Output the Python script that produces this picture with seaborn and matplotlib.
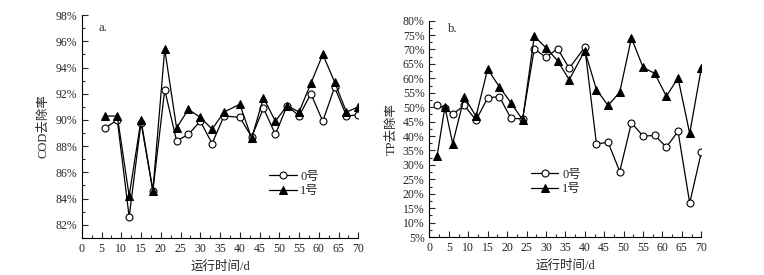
import numpy as np
import pandas as pd
import matplotlib
matplotlib.use('Agg')
import matplotlib.pyplot as plt
import seaborn as sns
from matplotlib.ticker import PercentFormatter, MultipleLocator

# a. COD 去除率
cod_day = [6, 9, 12, 15, 18, 21, 24, 27, 30, 33, 36, 40, 43, 46, 49, 52, 55, 58, 61, 64, 67, 70]
cod_0 = [89.4, 90.0, 82.6, 89.8, 84.6, 92.3, 88.4, 88.9, 89.9, 88.2, 90.3, 90.2,
         88.7, 90.9, 88.9, 91.1, 90.3, 92.0, 89.9, 92.5, 90.3, 90.4]
cod_1 = [90.3, 90.3, 84.2, 90.0, 84.6, 95.4, 89.4, 90.8, 90.2, 89.3, 90.6, 91.2,
         88.6, 91.7, 89.9, 91.1, 90.6, 92.8, 95.0, 92.9, 90.6, 91.0]

# b. TP 去除率
tp_day = [2, 4, 6, 9, 12, 15, 18, 21, 24, 27, 30, 33, 36, 40, 43, 46, 49, 52, 55, 58, 61, 64, 67, 70]
tp_0 = [50.7, 49.8, 47.6, 50.6, 45.5, 53.2, 53.7, 46.1, 46.0, 70.2, 67.3, 70.3, 63.5,
        70.8, 37.3, 37.8, 27.7, 44.6, 40.0, 40.2, 36.2, 41.6, 16.8, 34.4]
tp_1 = [33.2, 50.1, 37.4, 53.6, 46.8, 63.2, 57.1, 51.5, 45.6, 74.6, 70.6, 66.1, 59.5,
        69.6, 56.1, 50.6, 55.2, 74.0, 63.8, 61.7, 53.8, 60.1, 40.9, 63.6]

series_names = ['0号', '1号']

sns.set_style('ticks')
plt.rcParams['font.family'] = ['Liberation Serif', 'Noto Sans CJK SC']
plt.rcParams['font.size'] = 8.5

fig = plt.figure(figsize=(7.64, 2.75), dpi=100)
ax_a = fig.add_axes([0.107, 0.135, 0.362, 0.81])
ax_b = fig.add_axes([0.562, 0.138, 0.356, 0.787])


def draw(ax, day, v0, v1):
    sns.lineplot(x=day, y=v0, ax=ax, color='black', lw=0.9, marker='o', markersize=5,
                 markerfacecolor='white', markeredgecolor='black', markeredgewidth=0.8,
                 label=series_names[0])
    sns.lineplot(x=day, y=v1, ax=ax, color='black', lw=0.9, marker='^', markersize=6,
                 markerfacecolor='black', markeredgecolor='black', label=series_names[1])
    ax.set_xlim(0, 70)
    ax.xaxis.set_major_locator(MultipleLocator(5))
    ax.xaxis.set_minor_locator(MultipleLocator(2.5))
    ax.yaxis.set_major_formatter(PercentFormatter(decimals=0))
    ax.tick_params(which='both', direction='in', width=0.8, labelsize=8.5)
    ax.tick_params(which='major', length=4)
    ax.tick_params(which='minor', length=2)
    ax.set_xlabel('运行时间/d', fontsize=9)
    sns.despine(ax=ax)
    for s in ['left', 'bottom']:
        ax.spines[s].set_linewidth(0.8)
        ax.spines[s].set_color('black')


draw(ax_a, cod_day, cod_0, cod_1)
ax_a.set_ylim(81, 98)
ax_a.yaxis.set_major_locator(MultipleLocator(2))
ax_a.yaxis.set_minor_locator(MultipleLocator(1))
ax_a.set_ylabel('COD去除率', fontsize=9)
ax_a.text(0.06, 0.97, 'a.', transform=ax_a.transAxes, va='top', fontsize=9)
ax_a.legend(loc='upper left', bbox_to_anchor=(0.655, 0.33), frameon=False, fontsize=9,
            handlelength=2.2, handletextpad=0.3, labelspacing=0.2, borderpad=0)

draw(ax_b, tp_day, tp_0, tp_1)
ax_b.set_ylim(5, 80)
ax_b.yaxis.set_major_locator(MultipleLocator(5))
ax_b.yaxis.set_minor_locator(MultipleLocator(2.5))
ax_b.set_ylabel('TP去除率', fontsize=9)
ax_b.text(0.07, 0.99, 'b.', transform=ax_b.transAxes, va='top', fontsize=9)
ax_b.legend(loc='upper left', bbox_to_anchor=(0.35, 0.345), frameon=False, fontsize=9,
            handlelength=2.2, handletextpad=0.3, labelspacing=0.2, borderpad=0)

fig.savefig('out.png', dpi=100)
